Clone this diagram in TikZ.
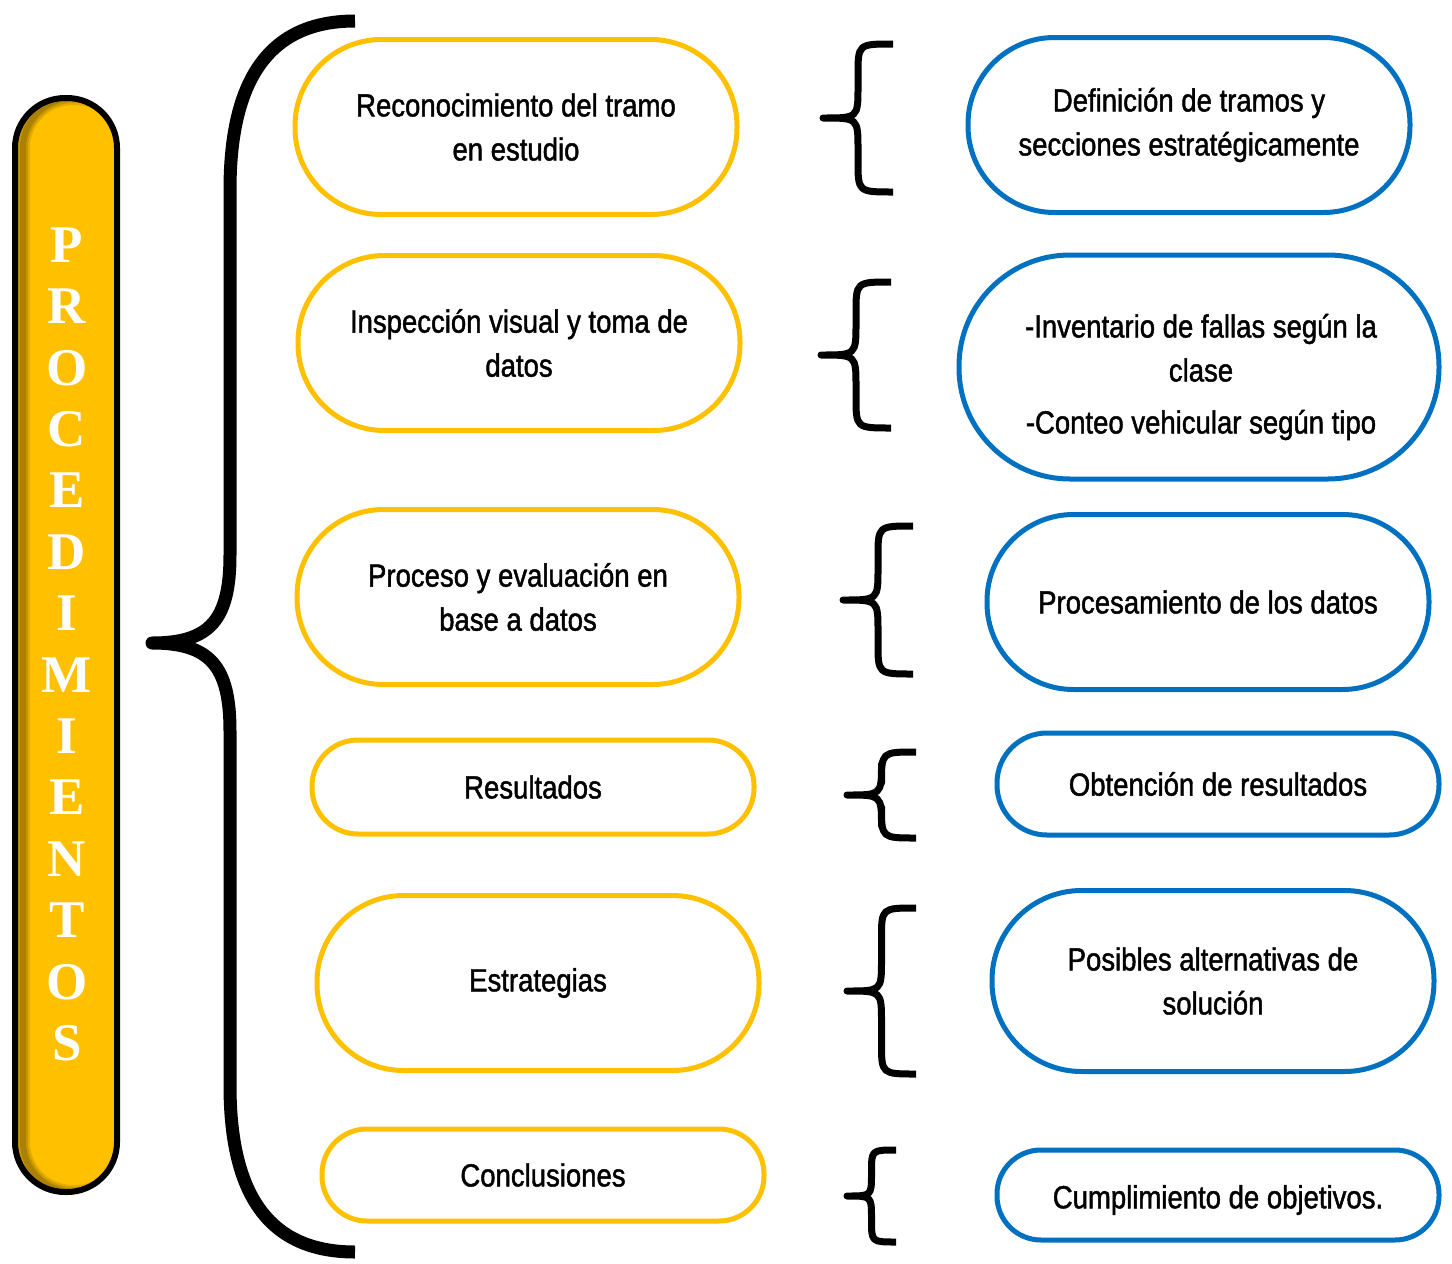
\documentclass[tikz,border=0pt]{standalone}
\usepackage{fontspec}
\setmainfont[FakeStretch=0.86, FakeBold=1.4]{Liberation Sans}
\newfontfamily\letrafont{Liberation Serif}
\usepackage{tikz}
\definecolor{amarillo}{HTML}{FFC000}
\definecolor{azul}{HTML}{0070C0}
\tikzset{%
  mypaso/.style={rectangle, draw=amarillo, line width=5pt, minimum width=442pt,
    minimum height={(#1-5)*1pt}, rounded corners={((#1-5)/2-1)*1pt},
    align=center, inner sep=0pt, font=\fontsize{32}{44}\selectfont},
  mydetalle/.style={mypaso=#1, draw=azul},
  mytexto/.style={align=center, inner sep=0pt, font=\fontsize{32}{44}\selectfont},
  myllave/.style={line width=7pt, line join=round},
  myletra/.style={text=white, inner sep=0pt, font=\letrafont\bfseries\fontsize{53}{53}\selectfont}
}
% llave: punta x, punta y, extremo x, media altura
\newcommand{\llave}[4]{%
  \draw[myllave] (#3,{#2-#4}) .. controls ({(#1+#3)/2},{#2-#4}) .. ({(#1+#3)/2},{#2-#4+0.45*(#3-#1)})
    -- ({(#1+#3)/2},{#2-0.45*(#3-#1)}) .. controls ({(#1+#3)/2},#2) .. (#1,#2)
    .. controls ({(#1+#3)/2},#2) .. ({(#1+#3)/2},{#2+0.45*(#3-#1)})
    -- ({(#1+#3)/2},{#2+#4-0.45*(#3-#1)}) .. controls ({(#1+#3)/2},{#2+#4}) .. (#3,{#2+#4});
}

\begin{document}
\begin{tikzpicture}[x=1pt, y=-1pt]
  \useasboundingbox (0,0) rectangle (1452,1264);

% barra izquierda
\fill[amarillo, rounded corners=50pt] (15,98) rectangle (117,1192);
\begin{scope}
  \clip[rounded corners=50pt] (15,98) rectangle (117,1192);
  \foreach \w/\o in {14/0.10, 10/0.12, 6/0.15} {
    \draw[black, opacity=\o, line width=\w pt, rounded corners=50pt] (23,98) rectangle (125,1192);
  }
\end{scope}
\draw[line width=6pt, rounded corners=50pt] (15,98) rectangle (117,1192);

\foreach \l [count=\i from 0] in {P,R,O,C,E,D,I,M,I,E,N,T,O,S} {
  \node[myletra] (L\i) at (67,{245+61.4*\i}) {\l};
}

% llave grande
\draw[line width=13pt, line join=round] (355,21) .. controls (262,21) and (230,90) .. (230,190)
  -- (230,555) .. controls (230,620) and (210,643) .. (152,643)
  .. controls (210,643) and (230,666) .. (230,731)
  -- (230,1085) .. controls (230,1185) and (262,1252) .. (355,1252);

\node[mypaso=180] (p1) at (516,127) {Reconocimiento del tramo\\en estudio};
\node[mypaso=180] (p2) at (519,343) {Inspección visual y toma de\\datos};
\node[mypaso=180] (p3) at (518,597) {Proceso y evaluación en\\base a datos};
\node[mypaso=99]  (p4) at (533,787) {Resultados};
\node[mypaso=180] (p5) at (538,983) {Estrategias};
\node[mypaso=97]  (p6) at (543,1175) {Conclusiones};

\llave{823}{118}{893}{74}
\llave{821}{355}{891}{73}
\llave{843}{600}{913}{74}
\llave{847}{795}{916}{43}
\llave{847}{991}{916}{83}
\llave{847}{1196}{896}{46}

\node[mydetalle=180] (d1) at (1189,125) {Definición de tramos y\\secciones estratégicamente};
\node[mydetalle=229, minimum width=480pt] (d2) at (1199,367) {};
\node[mytexto] (d2t) at (1201,377) {-Inventario de fallas según la\\clase\\[8pt]-Conteo vehicular según tipo};
\node[mydetalle=180] (d3) at (1208,602) {Procesamiento de los datos};
\node[mydetalle=107] (d4) at (1218,784) {Obtención de resultados};
\node[mydetalle=186] (d5) at (1213,981) {Posibles alternativas de\\solución};
\node[mydetalle=95]  (d6) at (1218,1195) {};
\node[mytexto] (d6t) at (1218,1200) {Cumplimiento de objetivos.};
\end{tikzpicture}
\end{document}
